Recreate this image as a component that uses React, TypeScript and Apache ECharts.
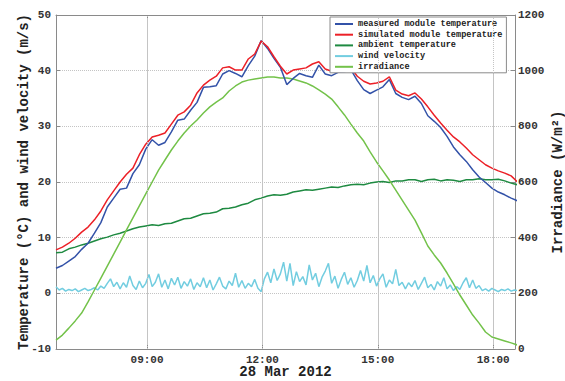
import React, { useEffect, useRef } from "react";
import * as echarts from "echarts";

// Time grid (minutes after midnight)
const startMinute = 398; // 06:38
const tempStep = 10;
const windStep = 5;
const xMin = 398;
const xMax = 1114;
const xTickValues = [540, 720, 900, 1080];
const dateLabel = "28 Mar 2012";

const seriesNames = [
  "measured module temperature",
  "simulated module temperature",
  "ambient temperature",
  "wind velocity",
  "irradiance",
];

// °C, every 10 minutes from 06:38
const measuredModule = [
  4.5, 5.0, 5.8, 6.6, 7.9, 9.0, 10.8, 12.7, 15.5, 17.1,
  18.7, 18.9, 21.5, 23.1, 25.9, 27.6, 26.6, 27.1, 29.0, 31.1,
  31.3, 32.9, 34.3, 37.0, 37.1, 37.3, 39.4, 40.0, 39.5, 38.9,
  40.9, 42.6, 45.4, 44.0, 42.2, 40.6, 37.5, 38.6, 39.5, 39.1,
  38.8, 41.0, 39.4, 39.1, 39.7, 39.8, 40.2, 38.2, 36.6, 35.9,
  36.5, 37.1, 38.4, 35.9, 35.2, 34.8, 35.4, 34.1, 31.9, 30.9,
  29.8, 28.2, 26.3, 24.9, 23.7, 22.2, 20.9, 19.9, 18.9, 18.2,
  17.7, 17.1, 16.6,
];

const simulatedModule = [
  7.8, 8.3, 9.0, 9.9, 11.0, 11.9, 13.2, 14.8, 16.8, 18.4,
  20.0, 21.4, 22.5, 24.9, 26.8, 28.1, 28.4, 28.8, 30.4, 32.0,
  32.6, 33.8, 36.0, 37.4, 38.3, 39.0, 40.5, 40.7, 40.1, 40.1,
  42.1, 43.0, 45.3, 44.3, 42.5, 40.8, 39.4, 40.1, 40.3, 40.5,
  41.2, 41.6, 40.3, 39.9, 40.1, 40.8, 40.5, 39.0, 38.1, 37.6,
  37.8, 38.1, 38.9, 36.5, 35.8, 35.5, 36.0, 34.9, 33.5, 32.0,
  30.6, 29.3, 28.1, 27.2, 26.1, 24.9, 24.0, 23.1, 22.5, 22.0,
  21.6, 21.1, 20.0,
];

const ambient = [
  7.3, 7.4, 8.0, 8.3, 8.7, 9.0, 9.4, 9.8, 10.1, 10.5,
  10.8, 11.2, 11.6, 11.9, 12.1, 12.3, 12.2, 12.5, 12.6, 13.0,
  13.4, 13.5, 13.9, 14.3, 14.4, 14.6, 15.2, 15.3, 15.5, 15.9,
  16.2, 16.8, 17.1, 17.5, 17.7, 17.6, 17.8, 18.2, 18.4, 18.6,
  18.5, 18.7, 18.9, 19.1, 19.0, 19.3, 19.5, 19.6, 19.5, 19.8,
  20.0, 20.1, 19.9, 20.2, 20.2, 20.4, 20.4, 20.1, 20.4, 20.5,
  20.2, 20.4, 20.3, 20.1, 20.4, 20.4, 20.6, 20.4, 20.4, 20.5,
  20.2, 19.8, 19.5,
];

// W/m², every 10 minutes from 06:38
const irradiance = [
  32, 50, 75, 101, 129, 169, 212, 255, 298, 341,
  384, 428, 471, 514, 557, 600, 643, 679, 715, 747,
  776, 801, 823, 848, 870, 887, 902, 927, 945, 959,
  966, 970, 974, 977, 977, 974, 974, 970, 963, 956,
  945, 931, 916, 898, 870, 841, 808, 776, 747, 708,
  672, 640, 607, 571, 535, 499, 463, 417, 370, 338,
  309, 273, 234, 194, 158, 122, 93, 61, 43, 36,
  29, 22, 14,
];

// m/s, every 5 minutes from 06:38
const windVelocity = [
  1.2, 0.6, 0.9, 0.4, 0.7, 0.5, 0.8, 0.3, 0.6, 0.9, 0.5, 0.7, 1.0, 0.6,
  1.3, 0.9, 1.8,
  2.6, 1.2, 2.0, 0.8, 1.9, 1.1, 3.1, 1.4, 0.7, 2.2, 1.0, 1.8, 3.4, 1.2,
  2.0, 3.5, 1.1, 2.4, 0.8, 2.7, 1.5, 2.9, 0.9, 2.1, 1.3, 2.6, 0.7, 1.9, 1.2,
  2.8, 1.0, 2.4, 0.6, 1.7, 2.9, 1.3, 0.8, 2.2, 1.4, 3.6, 1.1, 2.3, 0.9, 1.8, 1.2, 2.5, 0.9, 0.3,
  2.6, 3.8, 1.9, 4.4, 2.3, 3.5, 5.6, 2.2, 5.4, 1.4, 3.9, 2.1,
  3.0, 1.5, 5.1, 2.4, 3.6, 1.2, 2.9, 4.0, 5.4, 1.8, 3.1, 0.9, 2.5, 3.8, 1.6, 2.8, 1.1, 2.3, 4.1,
  2.2, 5.0, 1.9, 3.2, 1.3, 2.6, 3.5, 1.1, 2.4, 1.7, 4.3, 1.4, 2.0, 0.8, 1.9,
  1.2, 2.3, 0.7, 1.8, 2.9, 1.0, 1.6, 0.6, 2.1, 1.3, 2.8, 0.8, 1.5, 0.5, 1.2, 0.7, 1.9, 2.8, 1.0, 2.4,
  0.9, 1.4, 0.5, 0.8, 0.4, 0.9, 0.6, 0.3, 0.7, 0.5, 0.8, 0.4, 0.6, 0.5,
];

const colors = ["#3352a8", "#ec2027", "#1e8a41", "#72cde0", "#73c24a"];

const mono = '"Liberation Mono", "DejaVu Sans Mono", monospace';
const axisGray = "#8a8a8a";
const gridGray = "#c4c4c4";

const toPairs = (vals: number[], step: number) =>
  vals.map((v, i) => [startMinute + i * step, v]);

const fmtTime = (v: number) => {
  const h = Math.floor(v / 60);
  const m = Math.round(v - h * 60);
  return `${String(h).padStart(2, "0")}:${String(m).padStart(2, "0")}`;
};

export default function App() {
  const ref = useRef<HTMLDivElement>(null);

  useEffect(() => {
    if (!ref.current) return;
    const chart = echarts.init(ref.current, undefined, { renderer: "svg" });
    const labelStyle = {
      fontFamily: mono,
      fontSize: 11,
      fontWeight: "bold" as const,
      color: "#333",
    };
    const nameStyle = {
      fontFamily: mono,
      fontSize: 14,
      fontWeight: "bold" as const,
      color: "#222",
    };
    const gridLineStyle = { color: gridGray, type: "dotted", width: 1 };
    const lineSeries = (
      name: string,
      data: number[][],
      color: string,
      yAxisIndex = 0,
      width = 1.5
    ) => ({
      name,
      type: "line",
      data,
      yAxisIndex,
      xAxisIndex: 0,
      symbol: "none",
      showSymbol: false,
      color,
      lineStyle: { color, width },
      emphasis: { disabled: true },
    });

    // vertical grid lines at the time ticks
    const ambientSeries: any = lineSeries(seriesNames[2], toPairs(ambient, tempStep), colors[2]);
    ambientSeries.markLine = {
      silent: true,
      symbol: ["none", "none"],
      label: { show: false },
      lineStyle: gridLineStyle,
      emphasis: { disabled: true },
      data: xTickValues.map((v) => ({ xAxis: v })),
    };

    chart.setOption({
      animation: false,
      backgroundColor: "#ffffff",
      grid: {
        left: 56,
        top: 15,
        width: 459,
        height: 334,
        containLabel: false,
        outerBoundsMode: "none",
      },
      legend: {
        show: true,
        orient: "vertical",
        left: 330,
        top: 17,
        data: seriesNames,
        icon: "rect",
        itemWidth: 18,
        itemHeight: 2,
        itemGap: 0.7,
        padding: [2, 4, 1, 5],
        backgroundColor: "#ffffff",
        borderColor: axisGray,
        borderWidth: 1,
        selectedMode: false,
        textStyle: {
          fontFamily: mono,
          fontSize: 8.6,
          fontWeight: "bold",
          color: "#222",
          lineHeight: 10,
        },
      },
      xAxis: [
        {
          type: "value",
          position: "bottom",
          min: xMin,
          max: xMax,
          axisLine: { show: true, onZero: false, lineStyle: { color: axisGray, width: 1 } },
          axisTick: {
            show: true,
            inside: true,
            length: 4,
            customValues: xTickValues,
            lineStyle: { color: axisGray },
          },
          axisLabel: {
            ...labelStyle,
            customValues: xTickValues,
            formatter: (v: number) => fmtTime(v),
            margin: 5,
          },
          splitLine: { show: true, lineStyle: gridLineStyle },
          name: dateLabel,
          nameLocation: "middle",
          nameGap: 16,
          nameMoveOverlap: false,
          nameTextStyle: nameStyle,
        },
        {
          type: "value",
          position: "top",
          min: xMin,
          max: xMax,
          axisLine: { show: true, onZero: false, lineStyle: { color: axisGray, width: 1 } },
          axisTick: {
            show: true,
            inside: true,
            length: 4,
            customValues: xTickValues,
            lineStyle: { color: axisGray },
          },
          axisLabel: { show: false },
          splitLine: { show: false },
        },
      ],
      yAxis: [
        {
          type: "value",
          position: "left",
          min: -10,
          max: 50,
          interval: 10,
          axisLine: { show: true, onZero: false, lineStyle: { color: axisGray, width: 1 } },
          axisTick: { show: true, inside: true, length: 4, lineStyle: { color: axisGray } },
          axisLabel: { ...labelStyle, margin: 5 },
          splitLine: { show: true, lineStyle: gridLineStyle },
          name: "Temperature (°C) and wind velocity (m/s)",
          nameLocation: "middle",
          nameGap: 25,
          nameMoveOverlap: false,
          nameTextStyle: nameStyle,
        },
        {
          type: "value",
          position: "right",
          min: 0,
          max: 1200,
          interval: 200,
          axisLine: { show: true, onZero: false, lineStyle: { color: axisGray, width: 1 } },
          axisTick: { show: true, inside: true, length: 4, lineStyle: { color: axisGray } },
          axisLabel: { ...labelStyle, margin: 3, formatter: (v: number) => String(v) },
          splitLine: { show: false },
          name: "Irradiance (W/m²)",
          nameLocation: "middle",
          nameGap: 36,
          nameMoveOverlap: false,
          nameTextStyle: nameStyle,
        },
      ],
      series: [
        ambientSeries,
        lineSeries(seriesNames[3], toPairs(windVelocity, windStep), colors[3]),
        lineSeries(seriesNames[4], toPairs(irradiance, tempStep), colors[4], 1),
        lineSeries(seriesNames[0], toPairs(measuredModule, tempStep), colors[0]),
        lineSeries(seriesNames[1], toPairs(simulatedModule, tempStep), colors[1]),
      ],
    });
    return () => chart.dispose();
  }, []);

  return (
    <div
      ref={ref}
      style={{ position: "fixed", left: 0, top: 0, width: 565, height: 381, background: "#fff" }}
    />
  );
}
